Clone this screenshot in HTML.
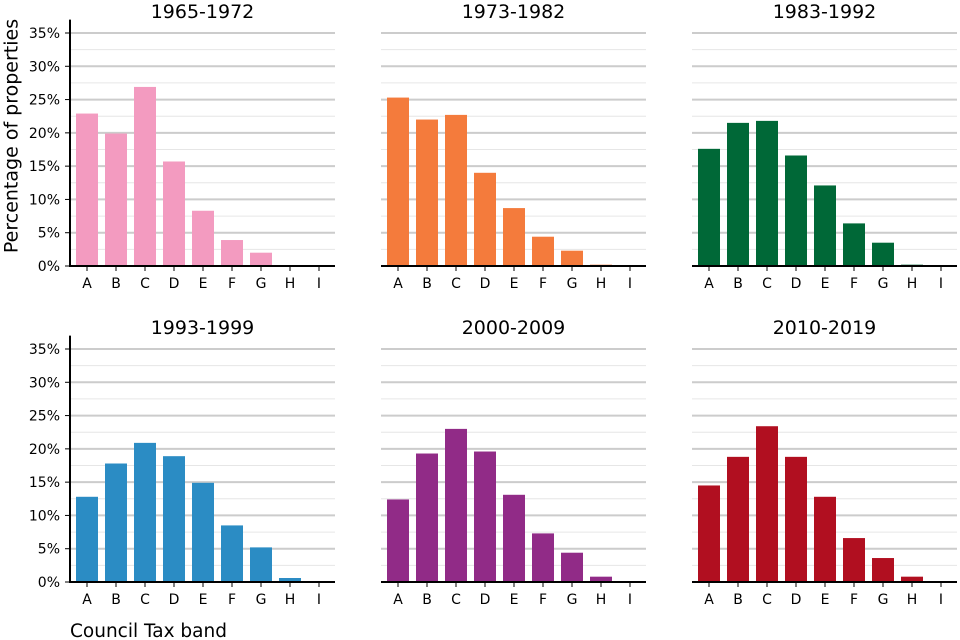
<!DOCTYPE html>
<html><head><meta charset="utf-8"><style>
body{margin:0;background:#fff;}
svg{display:block;font-family:"DejaVu Sans","Liberation Sans",sans-serif;}
</style></head><body>
<svg id="c" width="960" height="640"></svg>
<script>
const bands=["A","B","C","D","E","F","G","H","I"];
const periods=["1965-1972","1973-1982","1983-1992","1993-1999","2000-2009","2010-2019"];
const colors=["#f39bc0","#f47b3c","#006837","#2b8cc4","#912b87","#b10f20"];
const v1965=[22.9,19.9,26.9,15.7,8.3,3.9,2.0,0.1,0];
const v1973=[25.3,22.0,22.7,14.0,8.7,4.4,2.3,0.2,0];
const v1983=[17.6,21.5,21.8,16.6,12.1,6.4,3.5,0.2,0];
const v1993=[12.8,17.8,20.9,18.9,14.9,8.5,5.2,0.6,0];
const v2000=[12.4,19.3,23.0,19.6,13.1,7.3,4.4,0.8,0];
const v2010=[14.5,18.8,23.4,18.8,12.8,6.6,3.6,0.8,0];
const series=[v1965,v1973,v1983,v1993,v2000,v2010];
const yTicks=[0,5,10,15,20,25,30,35];
const NS="http://www.w3.org/2000/svg";
const svg=document.getElementById('c');
function mk(t,a,p){const e=document.createElementNS(NS,t);for(const k in a)e.setAttribute(k,a[k]);(p||svg).appendChild(e);return e;}
const colX=[70,381,692],rowBase=[266,582],W=265,pxPer=233/35;
series.forEach((vals,pi)=>{
  const x0=colX[pi%3],base=rowBase[Math.floor(pi/3)];
  const y=v=>base-v*pxPer;
  const xc=i=>x0+17+i*29;
  const g=mk('g',{});
  
  
  for(let m=2.5;m<=36;m+=5){const l=mk('line',{x1:x0,x2:x0+W,y1:y(m),y2:y(m),stroke:'#e6e6e6','stroke-width':1},g);
    }
  yTicks.forEach(t=>{if(t>0){const l=mk('line',{x1:x0,x2:x0+W,y1:y(t),y2:y(t),stroke:'#cccccc','stroke-width':2},g);
    }
    if(pi%3==0){const tx=mk('text',{x:x0-10,y:y(t)+5,'text-anchor':'end','font-size':14,fill:'#000'},g);tx.textContent=t+'%';
      
      mk('line',{x1:x0-5,x2:x0,y1:y(t),y2:y(t),stroke:'#000','stroke-width':1},g);}
  });
  vals.forEach((v,i)=>{const r=mk('rect',{x:xc(i)-11,y:y(v),width:22,height:v*pxPer,fill:colors[pi]},g);
    
    mk('line',{x1:xc(i),x2:xc(i),y1:base,y2:base+5,stroke:'#000'},g);
    const tx=mk('text',{x:xc(i),y:base+22,'text-anchor':'middle','font-size':14},g);tx.textContent=bands[i];
    });
  const ax=mk('line',{x1:x0,x2:x0+W,y1:base,y2:base,stroke:'#000','stroke-width':2},g);
  
  if(pi%3==0){const ya=mk('line',{x1:x0,x2:x0,y1:y(37),y2:base+1,stroke:'#000','stroke-width':2},g);
    }
  const ti=mk('text',{x:x0+W/2,y:base-248,'text-anchor':'middle','font-size':19},g);ti.textContent=periods[pi];
  
});
const yt=mk('text',{x:12,y:136,'text-anchor':'middle','font-size':19,transform:'rotate(-90 12 136)','dominant-baseline':'middle'});yt.textContent='Percentage of properties';

const xt=mk('text',{x:70,y:637,'font-size':18.5});xt.textContent='Council Tax band';

</script>
</body></html>
